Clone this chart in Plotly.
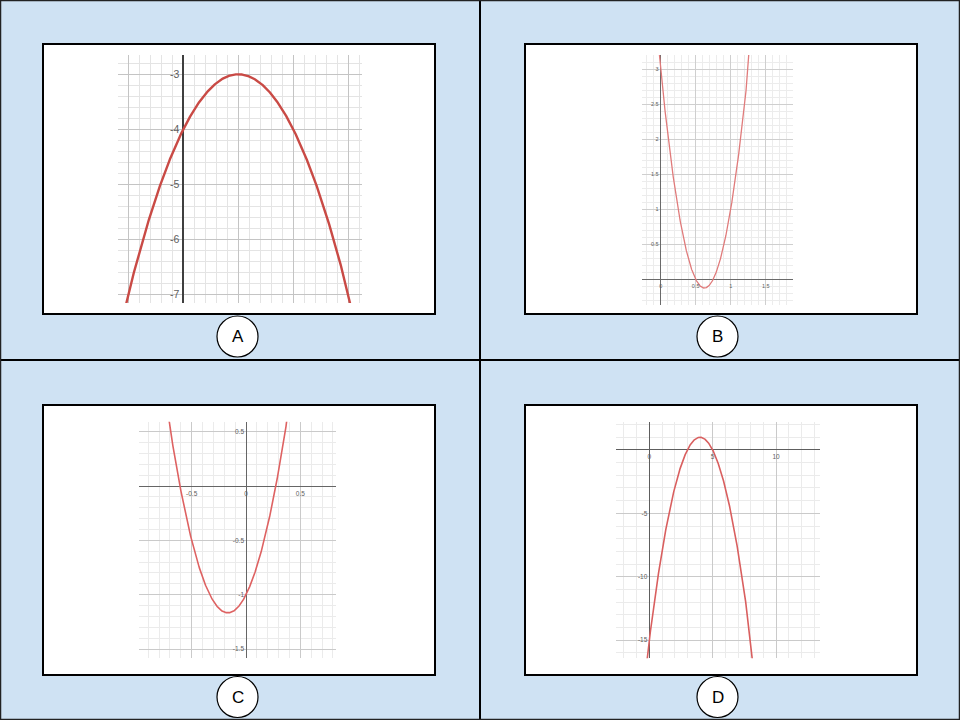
import numpy as np
import plotly.graph_objects as go

W, H = 960, 720

# ---------------- data ----------------
panels = ["A", "B", "C", "D"]

# quadratic coefficients [a, b, c] for y = a*x^2 + b*x + c
coef_A = [-1, 2, -4]
coef_B = [8, -10, 3]
coef_C = [6, 2, -1]
coef_D = [-1, 8, -15]

# visible axis ranges
xrange_A = [-1.187, 3.249]
yrange_A = [-7.158, -2.649]
xrange_B = [-0.271, 1.894]
yrange_B = [-0.367, 3.204]
xrange_C = [-0.982, 0.828]
yrange_C = [-1.585, 0.592]
xrange_D = [-2.63, 13.47]
yrange_D = [-16.44, 2.23]

# tick values and labels
xticks_A = [-1, 0, 1, 2, 3]
xlabels_A = ["", "", "", "", ""]
yticks_A = [-7, -6, -5, -4, -3]
ylabels_A = ["-7", "-6", "-5", "-4", "-3"]

xticks_B = [0, 0.5, 1, 1.5]
xlabels_B = ["0", "0.5", "1", "1.5"]
yticks_B = [0, 0.5, 1, 1.5, 2, 2.5, 3]
ylabels_B = ["", "0.5", "1", "1.5", "2", "2.5", "3"]

xticks_C = [-0.5, 0, 0.5]
xlabels_C = ["-0.5", "0", "0.5"]
yticks_C = [-1.5, -1, -0.5, 0, 0.5]
ylabels_C = ["-1.5", "-1", "-0.5", "", "0.5"]

xticks_D = [0, 5, 10]
xlabels_D = ["0", "5", "10"]
yticks_D = [-15, -10, -5, 0]
ylabels_D = ["-15", "-10", "-5", ""]

minor_A = 0.2
minor_B = 0.1
minor_C = 0.1
minor_D = 1

# ---------------- layout / style ----------------
# plot (grid) areas in pixels: x0, x1, y0(top), y1(bottom)
areas = {
    "A": (118, 362, 55, 303),
    "B": (641.7, 793.3, 55, 305),
    "C": (139.3, 336, 421.7, 658.3),
    "D": (616, 820, 421.7, 658.3),
}
styles = {
    "A": dict(curve="#c94a45", cw=2.4, axis="#3f3f3f", aw=1.6, font=10.5, sto=4, major="#c4c4c4", minor="#e4e4e4"),
    "B": dict(curve="#e07b7b", cw=1.3, axis="#6a6a6a", aw=1.1, font=5.5, sto=2, major="#cfcfcf", minor="#ececec"),
    "C": dict(curve="#de6262", cw=1.6, axis="#666666", aw=1.3, font=6.5, sto=2, major="#cacaca", minor="#ebebeb"),
    "D": dict(curve="#d95f5f", cw=1.6, axis="#5e5e5e", aw=1.3, font=6.5, sto=2, major="#cacaca", minor="#ebebeb"),
}
data = {
    "A": (coef_A, xrange_A, yrange_A, xticks_A, xlabels_A, yticks_A, ylabels_A, minor_A),
    "B": (coef_B, xrange_B, yrange_B, xticks_B, xlabels_B, yticks_B, ylabels_B, minor_B),
    "C": (coef_C, xrange_C, yrange_C, xticks_C, xlabels_C, yticks_C, ylabels_C, minor_C),
    "D": (coef_D, xrange_D, yrange_D, xticks_D, xlabels_D, yticks_D, ylabels_D, minor_D),
}

fig = go.Figure()
layout = {}
for i, p in enumerate(panels):
    coef, xr, yr, xt, xl, yt, yl, mn = data[p]
    st = styles[p]
    x0, x1, y0, y1 = areas[p]
    xdom = [x0 / W, x1 / W]
    ydom = [1 - y1 / H, 1 - y0 / H]
    suf = "" if i == 0 else str(i + 1)

    xs = np.linspace(xr[0], xr[1], 800)
    ys = np.polyval(coef, xs)
    fig.add_trace(go.Scatter(
        x=xs, y=ys, mode="lines",
        line=dict(color=st["curve"], width=st["cw"]),
        xaxis="x" + suf, yaxis="y" + suf,
        hoverinfo="skip", showlegend=False,
    ))

    # paper position of x=0 and y=0 (through the axis scales)
    xpos0 = xdom[0] + (0 - xr[0]) / (xr[1] - xr[0]) * (xdom[1] - xdom[0])
    ypos0 = ydom[0] + (0 - yr[0]) / (yr[1] - yr[0]) * (ydom[1] - ydom[0])

    tf = dict(family="Liberation Sans, Arial, sans-serif", size=st["font"], color="#606060")
    xa = dict(
        domain=xdom, range=xr, tickmode="array", tickvals=xt, ticktext=xl,
        showgrid=True, gridcolor=st["major"], gridwidth=1,
        minor=dict(tickmode="linear", tick0=0, dtick=mn, showgrid=True,
                   gridcolor=st["minor"], gridwidth=1),
        zeroline=True, zerolinecolor=st["axis"], zerolinewidth=st["aw"],
        showline=False, ticks="", tickfont=tf, fixedrange=True,
        ticklabelstandoff=st["sto"],
    )
    ya = dict(
        domain=ydom, range=yr, tickmode="array", tickvals=yt, ticktext=yl,
        showgrid=True, gridcolor=st["major"], gridwidth=1,
        minor=dict(tickmode="linear", tick0=0, dtick=mn, showgrid=True,
                   gridcolor=st["minor"], gridwidth=1),
        zeroline=True, zerolinecolor=st["axis"], zerolinewidth=st["aw"],
        showline=False, ticks="", tickfont=tf, fixedrange=True,
        anchor="free", position=min(max(xpos0, 0), 1),
        ticklabelstandoff=st["sto"],
    )
    if yr[0] <= 0 <= yr[1]:
        xa.update(anchor="free", position=ypos0)
    else:
        xa.update(anchor="y" + suf, showticklabels=False)
    layout["xaxis" + suf] = xa
    layout["yaxis" + suf] = ya

shapes = []
def prect(x0, y0, x1, y1, **kw):
    return dict(type="rect", xref="paper", yref="paper",
                x0=x0 / W, x1=x1 / W, y0=1 - y1 / H, y1=1 - y0 / H, **kw)

# white framed boxes
boxes = {"A": (43, 44, 435, 314), "B": (525, 44, 917, 314),
         "C": (43, 405, 435, 675), "D": (525, 405, 917, 675)}
for p in panels:
    bx = boxes[p]
    shapes.append(prect(*bx, fillcolor="white", line=dict(color="black", width=2), layer="below"))
    shapes.append(prect(*bx, fillcolor="rgba(0,0,0,0)", line=dict(color="black", width=2), layer="above"))

# dividers and outer border
shapes.append(dict(type="line", xref="paper", yref="paper", x0=0.5, x1=0.5, y0=0, y1=1,
                   line=dict(color="black", width=2), layer="above"))
shapes.append(dict(type="line", xref="paper", yref="paper", x0=0, x1=1, y0=0.5, y1=0.5,
                   line=dict(color="black", width=2), layer="above"))
shapes.append(prect(0.5, 0.5, 959.5, 719.5, fillcolor="rgba(0,0,0,0)",
                    line=dict(color="#222222", width=1.5), layer="above"))

# label circles
centers = {"A": (237.5, 336.5), "B": (717.5, 336.5), "C": (237.5, 697), "D": (717.5, 697)}
annotations = []
r = 20.5
for p in panels:
    cx, cy = centers[p]
    shapes.append(dict(type="circle", xref="paper", yref="paper",
                       x0=(cx - r) / W, x1=(cx + r) / W, y0=1 - (cy + r) / H, y1=1 - (cy - r) / H,
                       fillcolor="white", line=dict(color="black", width=1.2), layer="above"))
    annotations.append(dict(text=p, x=cx / W, y=1 - cy / H, xref="paper", yref="paper",
                            showarrow=False, xanchor="center", yanchor="middle",
                            font=dict(family="Liberation Sans, Arial, sans-serif", size=17, color="black")))

fig.update_layout(
    width=W, height=H, margin=dict(l=0, r=0, t=0, b=0),
    paper_bgcolor="#cfe2f3", plot_bgcolor="rgba(0,0,0,0)",
    shapes=shapes, annotations=annotations, showlegend=False,
    **layout,
)
fig.write_html(
    "out.html",
    config={"displayModeBar": False},
    post_script="document.body.style.margin='0';document.body.style.padding='0';document.body.style.overflow='hidden';",
)
